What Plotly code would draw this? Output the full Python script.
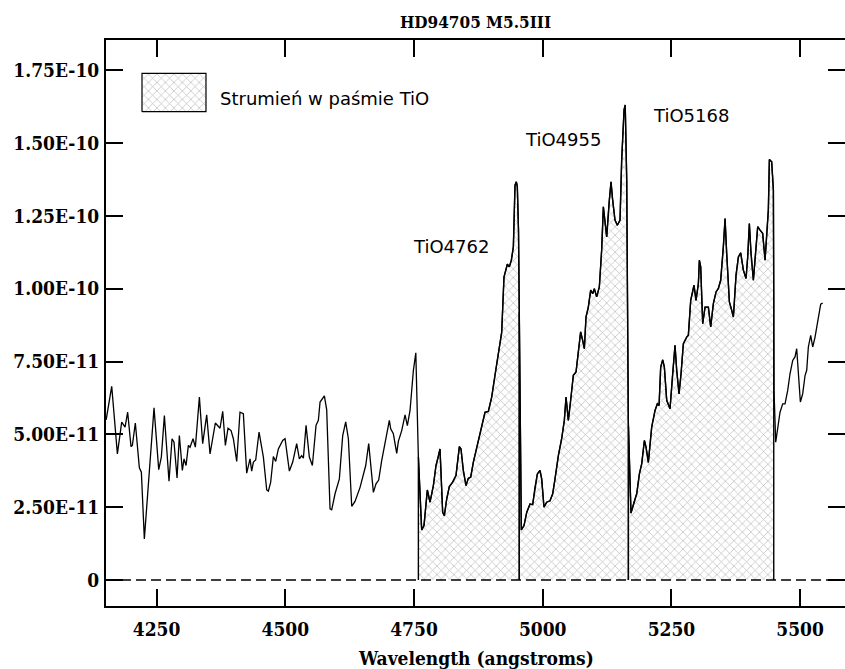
import numpy as np
import plotly.graph_objects as go

# ---------------- data ----------------
wavelength = [
    4152.0, 4162.8, 4173.8, 4182.2, 4188.7, 4193.8, 4200.3, 4202.9, 4208.7, 4216.5,
    4220.4, 4226.2, 4245.0, 4254.1, 4259.2, 4265.1, 4274.1, 4280.0, 4283.8, 4289.7,
    4294.2, 4300.0, 4303.3, 4307.2, 4311.7, 4314.9, 4320.8, 4325.3, 4333.1, 4339.5,
    4347.3, 4353.8, 4364.1, 4373.2, 4378.4, 4383.6, 4388.7, 4394.6, 4399.1, 4405.6,
    4412.0, 4418.5, 4425.0, 4431.5, 4434.7, 4438.0, 4442.5, 4449.0, 4457.4, 4463.9,
    4467.1, 4471.6, 4476.8, 4481.3, 4486.5, 4491.0, 4494.9, 4499.5, 4507.9, 4514.4,
    4522.1, 4527.3, 4531.8, 4535.1, 4540.3, 4546.7, 4552.6, 4559.7, 4564.2, 4567.5,
    4572.6, 4575.9, 4580.4, 4586.9, 4590.1, 4596.6, 4605.0, 4611.5, 4617.3, 4622.5,
    4629.0, 4635.4, 4645.2, 4651.6, 4656.2, 4662.0, 4665.9, 4671.1, 4676.2, 4681.4,
    4687.2, 4695.0, 4702.1, 4704.7, 4709.9, 4716.4, 4719.6, 4726.1, 4732.6, 4737.1,
    4742.3, 4748.8, 4753.5, 4758.4, 4764.9, 4769.4, 4775.9, 4781.1, 4787.6, 4792.7,
    4797.3, 4800.5, 4805.7, 4808.9, 4813.5, 4818.6, 4825.1, 4831.6, 4838.1, 4841.3,
    4845.8, 4851.0, 4855.5, 4860.1, 4865.3, 4871.7, 4878.2, 4883.4, 4887.9, 4894.4,
    4900.9, 4907.3, 4913.8, 4917.1, 4920.3, 4924.8, 4928.7, 4931.3, 4935.2, 4939.1,
    4943.0, 4946.2, 4948.8, 4950.7, 4953.0, 4958.5, 4963.7, 4968.9, 4975.3, 4980.5,
    4985.0, 4989.6, 4994.7, 4998.0, 5002.5, 5007.7, 5014.2, 5019.4, 5023.9, 5030.4,
    5036.8, 5042.0, 5045.3, 5049.8, 5054.3, 5059.5, 5064.7, 5069.2, 5073.7, 5077.6,
    5080.9, 5084.1, 5088.6, 5093.2, 5097.1, 5100.3, 5104.8, 5110.0, 5114.5, 5117.8,
    5121.0, 5124.3, 5129.4, 5132.7, 5135.9, 5140.4, 5145.0, 5150.2, 5153.4, 5158.0,
    5160.3, 5163.2, 5166.3, 5171.5, 5177.4, 5182.6, 5187.8, 5192.3, 5197.5, 5200.7,
    5205.2, 5211.7, 5218.2, 5222.7, 5226.0, 5229.2, 5233.1, 5236.3, 5240.9, 5247.3,
    5252.5, 5257.0, 5260.3, 5264.8, 5268.7, 5273.2, 5279.7, 5282.9, 5287.5, 5293.9,
    5297.8, 5302.4, 5304.3, 5306.9, 5310.8, 5315.3, 5321.8, 5326.3, 5331.5, 5336.7,
    5341.2, 5345.7, 5350.9, 5354.2, 5357.4, 5362.6, 5367.1, 5370.4, 5375.5, 5380.1,
    5384.6, 5389.8, 5394.9, 5398.2, 5401.4, 5404.7, 5409.2, 5414.4, 5417.6, 5422.2,
    5427.3, 5431.9, 5435.1, 5438.3, 5440.3, 5444.8, 5448.1, 5449.4, 5452.6, 5457.8,
    5461.0, 5466.2, 5470.7, 5475.9, 5480.4, 5485.6, 5490.1, 5493.4, 5496.6, 5500.5,
    5505.0, 5509.6, 5512.8, 5516.0, 5520.6, 5524.5, 5529.0, 5533.5, 5536.8, 5540.0,
    5543.9,
]
# flux in units of 1e-11
flux_e11 = [
    5.50, 6.65, 4.33, 5.42, 5.25, 5.76, 4.58, 4.62, 5.39, 3.85,
    3.70, 1.41, 5.91, 3.79, 4.22, 5.65, 3.39, 4.85, 4.73, 3.50,
    4.96, 3.76, 4.16, 3.93, 4.62, 4.56, 4.85, 4.56, 6.28, 4.68,
    5.67, 4.33, 5.39, 5.21, 5.79, 4.62, 5.21, 5.13, 4.85, 4.07,
    5.76, 5.71, 3.67, 4.16, 3.74, 4.05, 4.12, 5.08, 4.22, 3.09,
    3.05, 3.36, 4.24, 4.07, 4.50, 4.68, 4.79, 4.85, 3.74, 4.05,
    4.68, 4.16, 4.27, 4.18, 5.31, 4.22, 3.93, 5.31, 5.48, 6.11,
    6.22, 6.32, 5.84, 2.44, 2.41, 2.96, 3.47, 4.96, 5.43, 4.85,
    2.53, 2.70, 3.18, 3.67, 3.93, 4.68, 3.99, 3.01, 3.30, 3.43,
    4.10, 4.90, 5.48, 5.19, 5.02, 4.35, 4.76, 5.13, 5.67, 5.30,
    5.82, 7.20, 7.80, 4.27, 1.72, 1.87, 3.09, 2.67, 3.24, 3.93,
    4.24, 4.50, 2.32, 2.21, 2.78, 3.21, 3.36, 3.59, 4.58, 4.50,
    3.76, 3.24, 3.49, 3.53, 4.05, 4.56, 4.96, 5.48, 5.76, 5.79,
    6.28, 7.03, 7.71, 8.17, 8.50, 10.40, 10.63, 10.84, 10.75, 10.98,
    11.44, 13.56, 13.67, 13.50, 12.00, 1.72, 1.87, 2.32, 2.61, 2.59,
    3.19, 3.64, 3.76, 3.47, 2.50, 2.67, 2.72, 2.96, 3.47, 4.27,
    4.85, 5.48, 6.28, 5.48, 6.17, 7.03, 7.14, 7.88, 8.52, 8.23,
    7.94, 9.03, 9.37, 9.95, 9.83, 10.00, 9.72, 10.06, 11.32, 12.81,
    12.24, 11.78, 13.04, 13.67, 13.04, 12.36, 12.18, 12.36, 14.42, 16.14,
    16.31, 13.73, 5.40, 2.30, 2.67, 2.96, 3.64, 3.99, 4.79, 4.56,
    4.04, 5.25, 5.82, 6.05, 5.99, 7.31, 7.56, 7.31, 6.17, 5.88,
    7.08, 8.06, 7.20, 6.39, 7.08, 8.11, 8.34, 8.40, 9.60, 10.12,
    9.60, 10.18, 10.98, 10.75, 8.80, 9.37, 9.37, 8.69, 9.49, 9.89,
    10.01, 10.29, 11.44, 12.41, 11.21, 9.55, 9.26, 9.03, 10.46, 11.09,
    11.23, 10.64, 10.35, 11.09, 12.24, 11.21, 10.29, 11.44, 12.13, 12.01,
    11.90, 10.98, 11.78, 12.70, 14.44, 14.36, 13.39, 6.45, 4.73, 5.36,
    5.76, 6.05, 6.05, 6.51, 7.08, 7.54, 7.66, 7.94, 7.20, 6.11,
    6.39, 7.02, 7.20, 8.00, 8.40, 8.00, 8.34, 8.80, 9.15, 9.47,
    9.51,
]

band_edges = [4758.5, 4954.5, 5166.5, 5448.8]   # TiO band limits (angstrom)
band_labels = ["TiO4762", "TiO4955", "TiO5168"]
label_pos_x = [4821.0, 5040.0, 5289.0]
label_pos_y_e11 = [11.45, 15.14, 15.94]

ytick_vals_e11 = [0, 2.5, 5.0, 7.5, 10.0, 12.5, 15.0, 17.5]
ytick_text = ["0", "2.50E-11", "5.00E-11", "7.50E-11", "1.00E-10",
              "1.25E-10", "1.50E-10", "1.75E-10"]
xtick_vals = [4250, 4500, 4750, 5000, 5250, 5500]
legend_text = "Strumień w paśmie TiO"
title_text = "HD94705 M5.5III"
xlabel_text = "Wavelength (angstroms)"

# ---------------- figure ----------------
lam = np.array(wavelength)
flx = np.array(flux_e11) * 1e-11

SERIF = "DejaVu Serif Condensed"
SANS = "DejaVu Sans"
pattern = dict(shape="x", size=6, solidity=0.22, fgcolor="#7a7a7a", bgcolor="white")

fig = go.Figure()

# filled TiO bands
for i in range(len(band_edges) - 1):
    a, b = band_edges[i], band_edges[i + 1]
    m = (lam > a) & (lam < b)
    fa = np.interp(a, lam, flx)
    fb = np.interp(b, lam, flx)
    xs = np.concatenate([[a, a], lam[m], [b, b]])
    ys = np.concatenate([[0, fa], flx[m], [fb, 0]])
    fig.add_trace(go.Scatter(x=xs, y=ys, mode="lines", fill="tozeroy",
                             fillpattern=pattern, fillcolor="white",
                             line=dict(color="black", width=1.4),
                             hoverinfo="skip", showlegend=False))

# zero dashed line
fig.add_shape(type="line", xref="x domain", x0=0, x1=1, yref="y", y0=0, y1=0,
              line=dict(color="black", width=1.6, dash="10px,5px"), layer="above")

# spectrum
fig.add_trace(go.Scatter(x=lam, y=flx, mode="lines",
                         line=dict(color="black", width=1.3),
                         showlegend=False))

# right-hand ticks (inside)
fig.add_trace(go.Scatter(x=[None], y=[None], yaxis="y2", showlegend=False))

# legend box drawn in a [0,1] overlay frame
fig.add_trace(go.Scatter(x=[0.0487, 0.1353, 0.1353, 0.0487, 0.0487],
                         y=[0.8733, 0.8733, 0.9412, 0.9412, 0.8733],
                         xaxis="x2", yaxis="y3", mode="lines", fill="toself",
                         fillpattern=pattern, fillcolor="white",
                         line=dict(color="black", width=1.2),
                         hoverinfo="skip", showlegend=False))

for t, x, y in zip(band_labels, label_pos_x, label_pos_y_e11):
    fig.add_annotation(x=x, y=y * 1e-11, text=t, showarrow=False,
                       font=dict(family=SANS, size=18, color="black"),
                       xanchor="center", yanchor="middle")

fig.add_annotation(xref="paper", yref="paper", x=0.152, y=0.8965,
                   text=legend_text, showarrow=False, xanchor="left",
                   yanchor="middle", font=dict(family=SANS, size=18, color="black"))

fig.add_annotation(xref="paper", yref="paper", x=0.5, y=-0.092,
                   text=xlabel_text, showarrow=False, xanchor="center",
                   yanchor="middle",
                   font=dict(family=SERIF, size=19, color="black", weight="bold"))

yr = [-0.893e-11, 18.54e-11]
tickfont = dict(family=SERIF, size=19, color="black", weight="bold")

fig.update_layout(
    width=845, height=669,
    margin=dict(l=106, r=0, t=40, b=63),
    paper_bgcolor="white", plot_bgcolor="white",
    title=dict(text=title_text, x=0.5, xref="paper", xanchor="center",
               y=1 - 22 / 669, yref="container", yanchor="middle",
               font=dict(family=SERIF, size=17, color="black", weight="bold")),
    xaxis=dict(range=[4151.7, 5587.2], tickvals=xtick_vals,
               ticks="inside", ticklen=17, tickwidth=1.6, tickcolor="black",
               showline=True, linecolor="black", linewidth=2, mirror="ticks",
               showgrid=False, zeroline=False, tickfont=tickfont,
               ticklabelstandoff=5),
    yaxis=dict(range=yr, tickvals=[v * 1e-11 for v in ytick_vals_e11],
               ticktext=ytick_text, ticks="inside", ticklen=17, tickwidth=1.6,
               tickcolor="black", showline=True, linecolor="black", linewidth=2,
               showgrid=False, zeroline=False, tickfont=tickfont,
               ticklabelstandoff=1),
    yaxis2=dict(range=yr, overlaying="y", side="right", anchor="x",
                tickvals=[v * 1e-11 for v in ytick_vals_e11],
                ticks="inside", ticklen=17, tickwidth=1.6, tickcolor="black",
                showticklabels=False, showline=False, showgrid=False,
                zeroline=False),
    xaxis2=dict(range=[0, 1], overlaying="x", anchor="y3", visible=False),
    yaxis3=dict(range=[0, 1], overlaying="y", anchor="x2", visible=False),
    showlegend=False,
)

fig.write_html("out.html")
